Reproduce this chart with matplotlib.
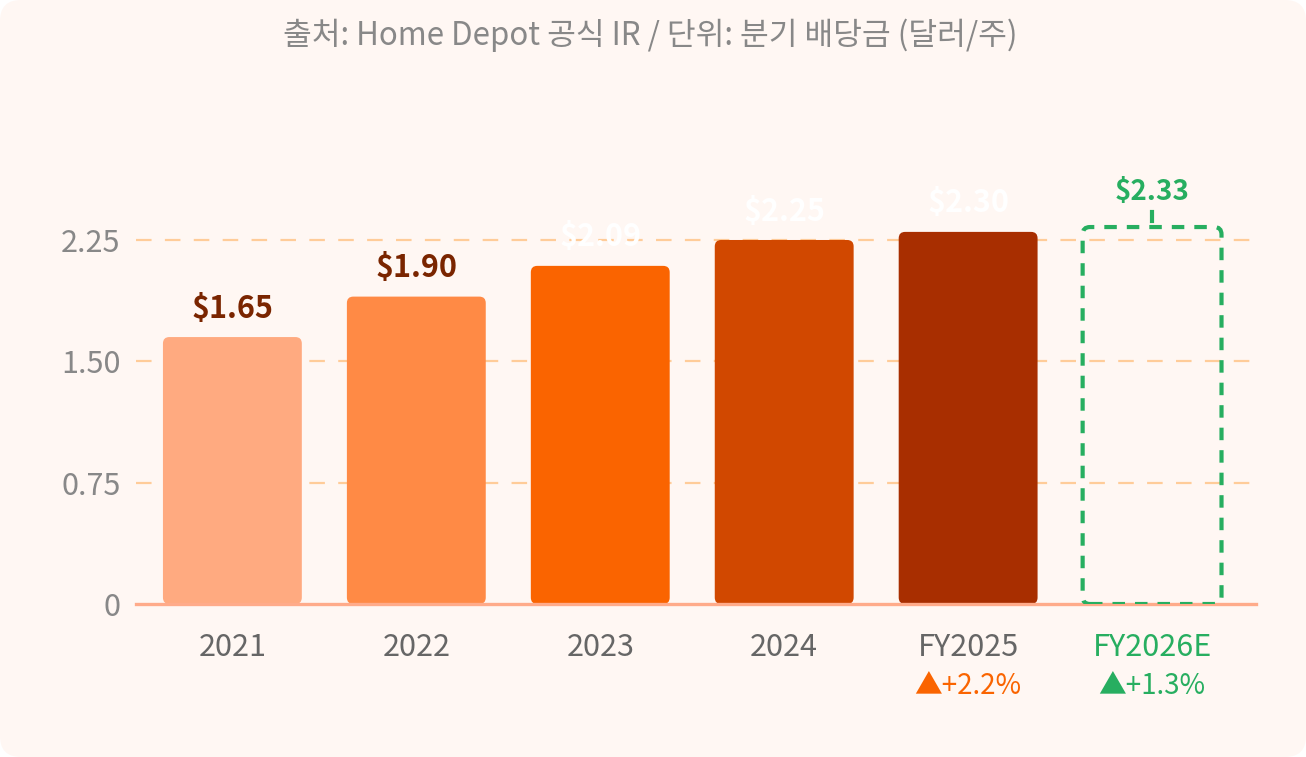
import matplotlib
matplotlib.use("Agg")
import matplotlib.pyplot as plt
from matplotlib.patches import FancyBboxPatch

plt.rcParams["font.family"] = ["Noto Sans CJK KR", "DejaVu Sans"]

# ── Data ──────────────────────────────────────────────────────────────
categories = ["2021", "2022", "2023", "2024", "FY2025", "FY2026E"]
dividends = [1.65, 1.90, 2.09, 2.25, 2.30, 2.33]
value_labels = ["$1.65", "$1.90", "$2.09", "$2.25", "$2.30", "$2.33"]
growth_cats = ["FY2025", "FY2026E"]
growth_labels = ["▲+2.2%", "▲+1.3%"]
y_ticks = [0, 0.75, 1.50, 2.25]
y_tick_labels = ["0", "0.75", "1.50", "2.25"]
title = "출처: Home Depot 공식 IR / 단위: 분기 배당금 (달러/주)"

# ── Style ─────────────────────────────────────────────────────────────
BG = "#FFF7F3"
GREEN = "#27AE60"
bar_colors = ["#FFAA80", "#FF8A45", "#FA6400", "#D14800", "#A82E00"]
label_colors = ["#7A2500", "#7A2500", "#FFFFFF", "#FFFFFF", "#FFFFFF"]
growth_colors = ["#FA6400", GREEN]

W, H = 1306, 757
fig = plt.figure(figsize=(W / 100, H / 100), dpi=100, facecolor="white")

# rounded card background
card = FancyBboxPatch((0, 0), 1, 1,
                      boxstyle="round,pad=0,rounding_size=0.016",
                      mutation_aspect=W / H,
                      transform=fig.transFigure, facecolor=BG,
                      edgecolor="none", zorder=-10)
fig.patches.append(card)

ax = fig.add_axes([136 / W, 153 / H, 1120 / W, 453 / H])
ax.set_facecolor("none")
ax.set_xlim(-0.524, 5.565)
ax.set_ylim(0, 2.8)

x = list(range(len(categories)))
bar_w = 0.755
px_x = 1120 / (5.565 + 0.524)
px_y = 453 / 2.8
aspect = px_x / px_y

# gridlines
for yt in y_ticks[1:]:
    ax.axhline(yt, color="#FFCC99", lw=1.6, ls=(0, (7, 6)), zorder=1)
ax.axhline(0, color="#FFAB8A", lw=2.4, zorder=4, clip_on=False)

# actual bars
for i in range(5):
    ax.add_patch(FancyBboxPatch((x[i] - bar_w / 2, 0), bar_w, dividends[i],
                                boxstyle="round,pad=0,rounding_size=0.035",
                                mutation_aspect=aspect,
                                facecolor=bar_colors[i], edgecolor="none",
                                zorder=3))
    ax.annotate(value_labels[i], (x[i], dividends[i]), xytext=(0, 20.5),
                textcoords="offset points", ha="center", va="center",
                fontsize=22, fontweight="bold", color=label_colors[i],
                zorder=5)

# estimate bar: dashed outline
i = 5
ax.add_patch(FancyBboxPatch((x[i] - bar_w / 2, 0), bar_w, dividends[i],
                            boxstyle="round,pad=0,rounding_size=0.04",
                            mutation_aspect=aspect,
                            facecolor="none", edgecolor=GREEN, lw=3,
                            ls=(0, (3, 2.4)), zorder=5))
ax.plot([x[i], x[i]], [dividends[i] + 0.04, dividends[i] + 0.09],
        color=GREEN, lw=3, zorder=5)
ax.annotate(value_labels[i], (x[i], dividends[i]), xytext=(0, 25),
            textcoords="offset points", ha="center", va="center",
            fontsize=20, fontweight="bold", color=GREEN, zorder=5)

# axes
for s in ax.spines.values():
    s.set_visible(False)
ax.set_yticks(y_ticks)
ax.set_yticklabels(y_tick_labels)
ax.set_xticks(x)
ax.set_xticklabels(categories)
ax.tick_params(axis="y", length=0, pad=11, labelsize=22, labelcolor="#888888")
ax.tick_params(axis="x", length=0, pad=20, labelsize=22, labelcolor="#666666")
ax.get_xticklabels()[-1].set_color(GREEN)

# growth labels under the last two ticks
for cat, txt, col in zip(growth_cats, growth_labels, growth_colors):
    ax.annotate(txt, (categories.index(cat), 0), xytext=(0, -59),
                textcoords="offset points", ha="center", va="center",
                fontsize=20, color=col)

fig.text(0.498, 1 - 35 / H, title, ha="center", va="center",
         fontsize=22.5, color="#888888")

fig.savefig("out.png", dpi=100, facecolor="white")
